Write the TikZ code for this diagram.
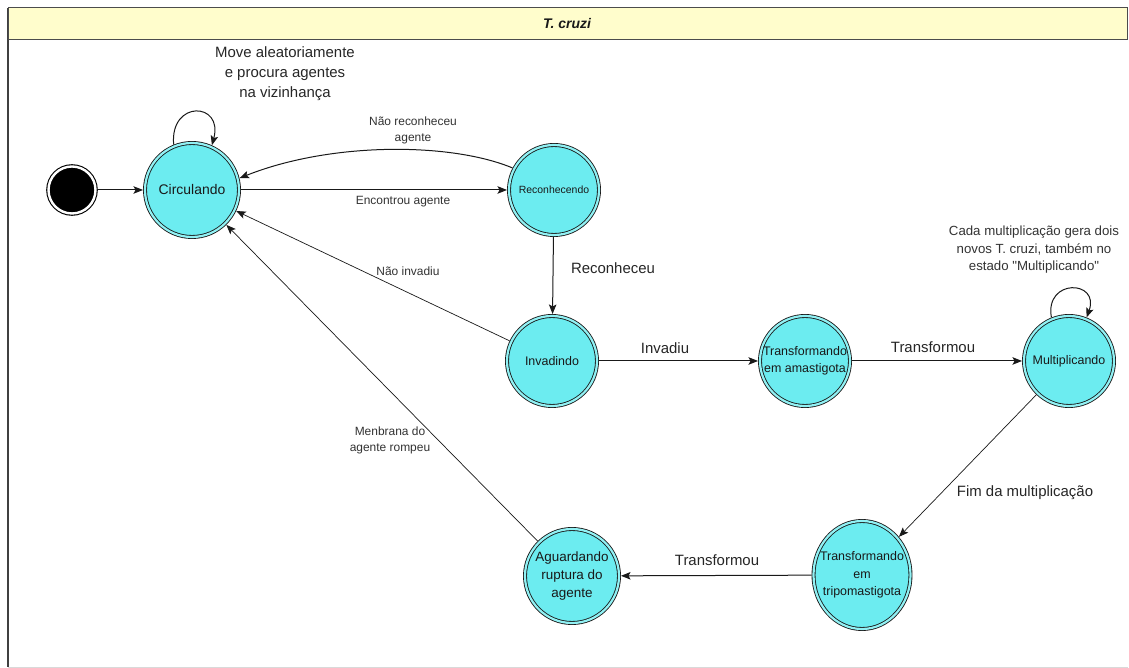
\documentclass[tikz,border=0pt]{standalone}
\usepackage{fontspec}
\setmainfont{Liberation Sans}
\newfontfamily\qfont{Liberation Sans}[Ligatures=ResetAll]
\usetikzlibrary{arrows.meta,shapes.geometric}
\definecolor{stfill}{RGB}{108,236,240}
\definecolor{hdr}{RGB}{255,253,204}
\begin{document}
\begin{tikzpicture}[x=1bp,y=1bp,
  state/.style={circle, draw=black!90, line width=0.85bp, double=stfill!75!white, double distance=2.2bp, fill=stfill, outer sep=2bp, inner sep=0pt},
  ntext/.style={align=center, text=black!90, inner sep=0pt, font=\fontsize{12.5}{16.5}\selectfont},
  arr/.style={-{Stealth[length=9.5bp,width=7.5bp,inset=2bp]}, line width=1bp, draw=black!90},
  thinarr/.style={arr, line width=0.7bp},
  lbl/.style={text=black!80, font=\fontsize{12}{16}\selectfont, align=center, inner sep=0pt},
  biglbl/.style={text=black!85, font=\fontsize{15}{20}\selectfont, align=center, inner sep=0pt}]
\useasboundingbox (0,0) rectangle (1129,668);
\fill[white] (0,0) rectangle (1129,668);
% frame
\draw[black!15, line width=0.8bp] (8,1) -- (1128,1);
\draw[black!75, line width=1.5bp] (8,1) -- (8,660);
\draw[fill=hdr, draw=black!70, line width=1bp] (8,628) rectangle (1127,660);
\node[font=\bfseries\itshape\fontsize{14}{16}\selectfont, text=black!90] (title) at (567,644) {T. cruzi};

% states
\node[circle, fill=black, draw=black, line width=1.1bp, double=white, double distance=2.4bp, minimum size=47bp, outer sep=2bp] (init) at (72,478) {};
\node[state, minimum size=94bp] (circ) at (192,478) {};
\node[ntext, font=\fontsize{14}{16}\selectfont] (circt) at (circ) {Circulando};
\node[state, minimum size=90bp] (rec) at (554,478) {};
\node[ntext, font=\fontsize{10.5}{12}\selectfont] (rect) at (rec) {Reconhecendo};
\node[state, minimum size=90bp] (inv) at (552,307) {};
\node[ntext] (invt) at (inv) {Invadindo};
\node[state, minimum size=90bp] (ama) at (805,307) {};
\node[ntext] (amat) at (ama) {Transformando\\em amastigota};
\node[state, minimum size=90bp] (mult) at (1069,307) {};
\node[ntext] (multt) at (mult) {Multiplicando};
\node[state, ellipse, minimum width=97bp, minimum height=108bp] (tri) at (862,93) {};
\node[ntext, font=\fontsize{12.5}{17.5}\selectfont] (trit) at (tri) {Transformando\\em\\tripomastigota};
\node[state, minimum size=94bp] (agu) at (572,92) {};
\node[ntext, font=\fontsize{13.5}{18}\selectfont] (agut) at (agu) {Aguardando\\ruptura do\\agente};

% transitions
\draw[arr] (init) -- (circ);
\draw[arr] (circ.112) .. controls +(95:45) and +(75:45) .. (circ.66);
\node[biglbl] (lmove) at (285,594) {Move aleatoriamente\\e procura agentes\\na vizinhança};
\draw[arr] (circ) -- (rec);
\node[lbl] (lenc) at (403,466) {Encontrou agente};
\draw[arr] (rec.152) .. controls (450,526) and (330,526) .. (circ.14);
\node[lbl] (lnao) at (413,538) {Não reconheceu\\agente};
\draw[arr] (rec) -- (inv);
\node[biglbl] (lrec) at (613,400) {Reconheceu};
\draw[thinarr] (inv) -- (circ);
\node[lbl] (lnaoinv) at (408,397) {Não invadiu};
\draw[arr] (inv) -- (ama);
\node[biglbl] (linv) at (665,320) {Invadiu};
\draw[arr] (ama) -- (mult);
\node[biglbl] (ltr1) at (933,321) {Transformou};
\draw[arr] (mult.112) .. controls +(100:40) and +(70:40) .. (mult.68);
\node[text=black!80, font=\fontsize{13.3}{17.5}\selectfont, align=center, inner sep=0pt] (lcada) at (1034,418) {Cada multiplicação gera dois\\novos T. cruzi, também no\\estado {\qfont"}Multiplicando{\qfont"}};
\draw[thinarr] (mult) -- (tri);
\node[biglbl] (lfim) at (1025,175) {Fim da multiplicação};
\draw[arr] (tri) -- (agu);
\node[biglbl] (ltr2) at (717,108) {Transformou};
\draw[thinarr] (agu) -- (circ);
\node[lbl] (lmem) at (390,228) {Menbrana do\\agente rompeu};
\end{tikzpicture}
\end{document}
